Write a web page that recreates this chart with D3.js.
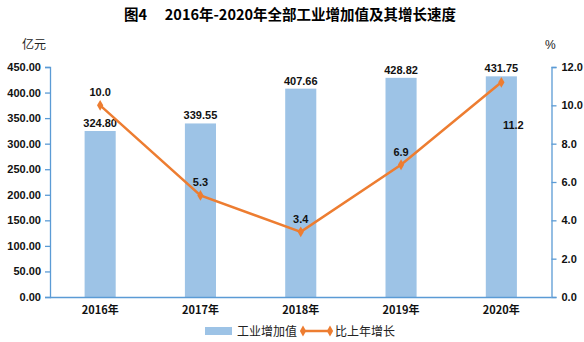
<!DOCTYPE html>
<html><head><meta charset="utf-8">
<script src="https://cdn.jsdelivr.net/npm/d3@7"></script>
<style>body{margin:0;background:#fff}svg{display:block}text{font-family:"Liberation Sans",Arial,"Noto Sans CJK SC",sans-serif}</style>
</head><body><svg id="c" width="584" height="342"></svg>
<script>
const categories = ["2016年","2017年","2018年","2019年","2020年"];
const valueAdded = [324.80, 339.55, 407.66, 428.82, 431.75];
const growth = [10.0, 5.3, 3.4, 6.9, 11.2];
const leftTicks = [0,50,100,150,200,250,300,350,400,450];
const rightTicks = [0,2,4,6,8,10,12];

const svg = d3.select("#c");
const L = 50, R = 551.5, T = 67, B = 297;
const barColor = "#9DC3E6", lineColor = "#ED7D31", axisColor = "#5B9BD5";
const cjk = '"Noto Sans CJK SC",sans-serif';

const x = d3.scaleBand().domain(categories).range([L, R]).paddingInner(0.69).paddingOuter(0.345);
const yL = d3.scaleLinear().domain([0,450]).range([B,T]);
const yR = d3.scaleLinear().domain([0,12]).range([B,T]);

svg.append("text").attr("x",290).attr("y",20).attr("text-anchor","middle")
  .attr("font-size",14.5).attr("font-weight","bold").style("font-family",cjk)
  .text("图4　 2016年-2020年全部工业增加值及其增长速度");
svg.append("text").attr("x",22).attr("y",49).attr("font-size",12).style("font-family",cjk).attr("fill","#222").text("亿元");
svg.append("text").attr("x",545).attr("y",49).attr("font-size",12).attr("fill","#222").text("%");

// bars
svg.selectAll("rect.bar").data(valueAdded).join("rect").attr("class","bar")
  .attr("x",(d,i)=>x(categories[i])).attr("width",x.bandwidth())
  .attr("y",d=>yL(d)).attr("height",d=>B-yL(d)).attr("fill",barColor);

// axes
const axL = d3.axisLeft(yL).tickValues(leftTicks).tickFormat(d3.format(".2f")).tickSize(5).tickPadding(4);
const gL = svg.append("g").attr("transform",`translate(${L},0)`).call(axL);
const axR = d3.axisRight(yR).tickValues(rightTicks).tickFormat(d3.format(".1f")).tickSize(5).tickPadding(5);
const gR = svg.append("g").attr("transform",`translate(${R},0)`).call(axR);
const axB = d3.axisBottom(x).tickSize(0).tickPadding(9);
const gB = svg.append("g").attr("transform",`translate(0,${B})`).call(axB);
[gL,gR,gB].forEach(g=>{
  g.selectAll("path.domain").attr("stroke",axisColor).attr("stroke-width",1.3);
  g.selectAll(".tick line").attr("stroke",axisColor).attr("stroke-width",1.3);
  g.selectAll("text").attr("font-size",11).attr("font-weight","bold").attr("fill","#111");
});
gB.select("path.domain").attr("d",`M${L},0.5H${R}`);
gB.selectAll("text").style("font-family",cjk).attr("font-size",11);

// bar labels
svg.selectAll("text.bl").data(valueAdded).join("text").attr("class","bl")
  .attr("x",(d,i)=>x(categories[i])+x.bandwidth()/2).attr("y",d=>yL(d)-4)
  .attr("text-anchor","middle").attr("font-size",11).attr("font-weight","bold").attr("fill","#111")
  .text(d=>d.toFixed(2));

// line
const cx = (i)=>x(categories[i])+x.bandwidth()/2;
const line = d3.line().x((d,i)=>cx(i)).y(d=>yR(d));
svg.append("path").datum(growth).attr("d",line).attr("fill","none").attr("stroke",lineColor).attr("stroke-width",2.5);
svg.selectAll("path.mk").data(growth).join("path").attr("class","mk")
  .attr("d",d3.symbol(d3.symbolDiamond,34)).attr("transform",(d,i)=>`translate(${cx(i)},${yR(d)})`).attr("fill",lineColor);
svg.selectAll("text.gl").data(growth).join("text").attr("class","gl")
  .attr("x",(d,i)=> i===4 ? cx(i)+12 : cx(i)).attr("y",(d,i)=> i===4 ? yR(d)+47 : yR(d)-9)
  .attr("text-anchor","middle").attr("font-size",11).attr("font-weight","bold").attr("fill","#111")
  .text(d=>d.toFixed(1));

// legend
svg.append("rect").attr("x",205).attr("y",327).attr("width",27).attr("height",8).attr("fill",barColor);
svg.append("text").attr("x",237).attr("y",335.5).attr("font-size",12).style("font-family",cjk).attr("fill","#222").text("工业增加值");
svg.append("line").attr("x1",303).attr("x2",330).attr("y1",331).attr("y2",331).attr("stroke",lineColor).attr("stroke-width",2.5);
[303,330].forEach(px=>svg.append("path").attr("d",d3.symbol(d3.symbolDiamond,34)).attr("transform",`translate(${px},331)`).attr("fill",lineColor));
svg.append("text").attr("x",335).attr("y",335.5).attr("font-size",12).style("font-family",cjk).attr("fill","#222").text("比上年增长");
</script></body></html>
